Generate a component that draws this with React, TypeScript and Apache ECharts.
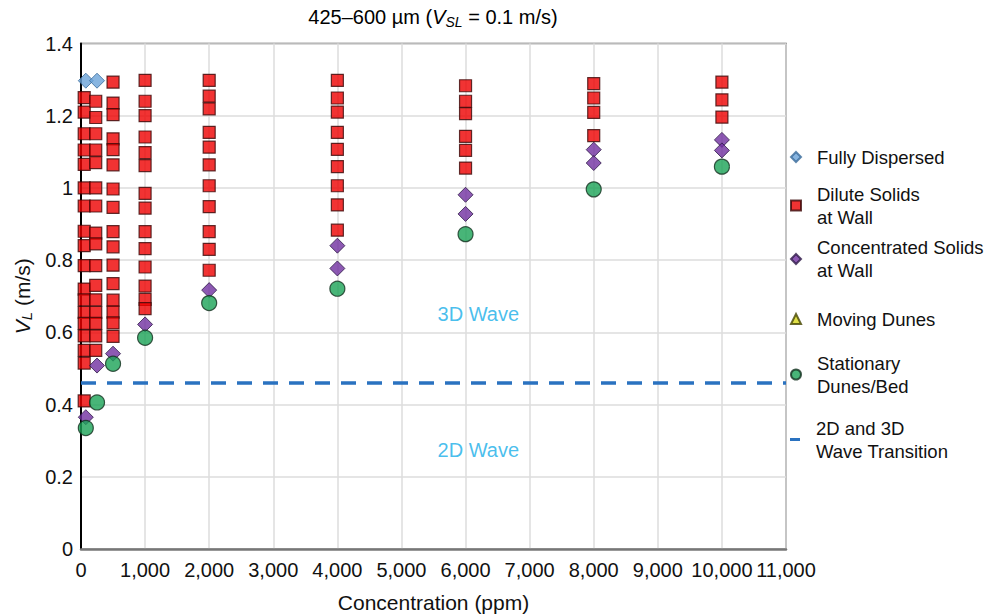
import React, { useEffect, useRef } from "react";
import * as echarts from "echarts";

// ---- data ----
const fullyDispersedX = [75, 250];
const fullyDispersedY = [1.297, 1.297];

const diluteX = [50, 230, 500, 1000, 2000, 4000, 6000, 8000, 10000];
const diluteY = [
  [1.25, 1.21, 1.15, 1.105, 1.065, 1.0, 0.95, 0.88, 0.84, 0.785, 0.72, 0.69, 0.655, 0.625, 0.59, 0.55, 0.515, 0.41],
  [1.24, 1.195, 1.15, 1.105, 1.07, 1.0, 0.95, 0.875, 0.845, 0.785, 0.73, 0.69, 0.655, 0.625, 0.59, 0.55],
  [1.293, 1.235, 1.203, 1.136, 1.106, 1.064, 0.997, 0.946, 0.879, 0.837, 0.786, 0.735, 0.689, 0.656, 0.626, 0.589],
  [1.298, 1.24, 1.2, 1.141, 1.098, 1.062, 0.985, 0.944, 0.879, 0.832, 0.781, 0.728, 0.691, 0.666],
  [1.298, 1.254, 1.219, 1.154, 1.113, 1.064, 1.006, 0.948, 0.879, 0.83, 0.772],
  [1.298, 1.249, 1.21, 1.154, 1.107, 1.059, 1.006, 0.953, 0.883],
  [1.283, 1.24, 1.206, 1.143, 1.104, 1.055],
  [1.289, 1.249, 1.209, 1.145],
  [1.293, 1.244, 1.196],
];

const concentratedX = [75, 250, 500, 1000, 2000, 4000, 4000, 6000, 6000, 8000, 8000, 10000, 10000];
const concentratedY = [0.365, 0.508, 0.541, 0.622, 0.717, 0.84, 0.777, 0.981, 0.928, 1.106, 1.069, 1.133, 1.104];

const movingDunesX: number[] = [];
const movingDunesY: number[] = [];

const stationaryX = [75, 250, 500, 1000, 2000, 4000, 6000, 8000, 10000];
const stationaryY = [0.335, 0.406, 0.513, 0.585, 0.681, 0.721, 0.872, 0.996, 1.059];

const transitionX = [0, 11000];
const transitionY = [0.46, 0.46];

const regionLabels = ["3D Wave", "2D Wave"];
const regionLabelX = [6200, 6200];
const regionLabelY = [0.651, 0.274];

const seriesNames = [
  "Fully Dispersed",
  "Dilute Solids\nat Wall",
  "Concentrated Solids\nat Wall",
  "Moving Dunes",
  "Stationary\nDunes/Bed",
  "2D and 3D\nWave Transition",
];

const FONT = "'Liberation Sans', Arial, Helvetica, sans-serif";

const zip = (xs: number[], ys: number[]) => xs.map((x, i) => [x, ys[i]]);

export default function App() {
  const ref = useRef<HTMLDivElement>(null);

  useEffect(() => {
    if (!ref.current) return;
    const chart = echarts.init(ref.current, undefined, { renderer: "svg" });

    const diluteData: number[][] = [];
    diluteX.forEach((x, i) => diluteY[i].forEach((y) => diluteData.push([x, y])));

    const legendTops = [145.5, 182.5, 236, 307.5, 351.5, 416.5];
    const legends = seriesNames.map((name, i) => {
      const isLine = i === 5;
      return {
        data: [isLine ? { name, icon: "rect" } : { name }],
        orient: "vertical",
        left: 790,
        top: legendTops[i],
        padding: 0,
        itemWidth: 10,
        itemHeight: isLine ? 3 : 10,
        symbolKeepAspect: !isLine,
        selectedMode: false,
        textStyle: {
          fontFamily: FONT,
          fontSize: 18.5,
          color: "#111",
          lineHeight: 23,
          padding: [0, 0, 0, 11],
        },
      };
    });

    const option: any = {
      animation: false,
      backgroundColor: "#fff",
      textStyle: { fontFamily: FONT },
      graphic: [
        {
          type: "text",
          x: 433,
          y: 17,
          style: {
            text: "{a|425–600 µm (}{v|V}{s|SL}{a| = 0.1 m/s)}",
            textAlign: "center",
            textVerticalAlign: "middle",
            rich: {
              a: { fontFamily: FONT, fontSize: 20, color: "#111", lineHeight: 24 },
              v: { fontFamily: FONT, fontSize: 20, color: "#111", lineHeight: 24, fontStyle: "italic" },
              s: { fontFamily: FONT, fontSize: 14, color: "#111", lineHeight: 12, fontStyle: "italic", verticalAlign: "bottom" },
            },
          },
        },
      ],
      legend: legends,
      grid: {
        left: 81,
        right: 199,
        top: 43.5,
        bottom: 67,
        show: true,
        borderColor: "#555",
        borderWidth: 1.5,
        backgroundColor: "transparent",
        outerBoundsMode: "none",
      },
      xAxis: {
        type: "value",
        min: 0,
        max: 11000,
        interval: 1000,
        name: "Concentration (ppm)",
        nameLocation: "middle",
        nameGap: 43,
        nameTextStyle: { fontFamily: FONT, fontSize: 21, color: "#111" },
        axisLine: { show: true, lineStyle: { color: "#777", width: 2.5 } },
        axisTick: { show: false },
        splitLine: { show: true, lineStyle: { color: "#dcdcdc", width: 1.5 } },
        axisLabel: {
          fontFamily: FONT,
          fontSize: 20,
          color: "#111",
          margin: 11,
          formatter: (v: number) => v.toLocaleString("en-US"),
        },
      },
      yAxis: {
        type: "value",
        min: 0,
        max: 1.4,
        interval: 0.2,
        name: "{v|V}{s|L}{a| (m/s)}",
        nameLocation: "middle",
        nameGap: 47,
        nameRotate: 90,
        nameTextStyle: {
          rich: {
            a: { fontFamily: FONT, fontSize: 21, color: "#111", lineHeight: 24 },
            v: { fontFamily: FONT, fontSize: 21, color: "#111", lineHeight: 24, fontStyle: "italic" },
            s: { fontFamily: FONT, fontSize: 15, color: "#111", lineHeight: 12, fontStyle: "italic", verticalAlign: "bottom" },
          },
        },
        axisLine: { show: true, lineStyle: { color: "#000", width: 2 } },
        axisTick: { show: false },
        splitLine: { show: true, lineStyle: { color: "#dcdcdc", width: 1.5 } },
        axisLabel: {
          fontFamily: FONT,
          fontSize: 20,
          color: "#111",
          margin: 8,
          formatter: (v: number) => String(Math.round(v * 10) / 10),
        },
      },
      series: [
        {
          name: seriesNames[5],
          type: "line",
          data: zip(transitionX, transitionY),
          symbol: "none",
          lineStyle: { color: "#2a72c0", width: 3.5, type: [15, 11] },
          itemStyle: { color: "#2a72c0" },
          z: 1,
          silent: true,
        },
        {
          name: seriesNames[0],
          type: "scatter",
          data: zip(fullyDispersedX, fullyDispersedY),
          symbol: "diamond",
          symbolSize: 15,
          itemStyle: { color: "#6aa2d8", borderColor: "#3a6a9a", borderWidth: 1 },
          z: 3,
        },
        {
          name: seriesNames[1],
          type: "scatter",
          data: diluteData,
          symbol: "rect",
          symbolSize: 12,
          itemStyle: { color: "#ee0000", borderColor: "#3a0808", borderWidth: 1.2 },
          z: 3,
        },
        {
          name: seriesNames[2],
          type: "scatter",
          data: zip(concentratedX, concentratedY),
          symbol: "diamond",
          symbolSize: 15,
          itemStyle: { color: "#7030a0", borderColor: "#2e1a47", borderWidth: 1 },
          z: 4,
        },
        {
          name: seriesNames[3],
          type: "scatter",
          data: zip(movingDunesX, movingDunesY),
          symbol: "triangle",
          symbolSize: 12,
          itemStyle: { color: "#d8d81a", borderColor: "#444400", borderWidth: 1 },
          z: 4,
        },
        {
          name: seriesNames[4],
          type: "scatter",
          data: zip(stationaryX, stationaryY),
          symbol: "circle",
          symbolSize: 15,
          itemStyle: { color: "#1aa356", borderColor: "#12301e", borderWidth: 1.2 },
          z: 5,
        },
        {
          name: "regionLabels",
          type: "scatter",
          data: regionLabels.map((t, i) => [regionLabelX[i], regionLabelY[i], t]),
          symbolSize: 1,
          itemStyle: { color: "transparent" },
          silent: true,
          label: {
            show: true,
            position: "inside",
            formatter: (p: any) => p.value[2],
            fontFamily: FONT,
            fontSize: 20,
            color: "#18aee8",
          },
          z: 2,
        },
      ],
    };

    chart.setOption(option);
    return () => chart.dispose();
  }, []);

  return (
    <div
      ref={ref}
      style={{ position: "fixed", left: 0, top: 0, width: 985, height: 616, background: "#fff" }}
    />
  );
}
